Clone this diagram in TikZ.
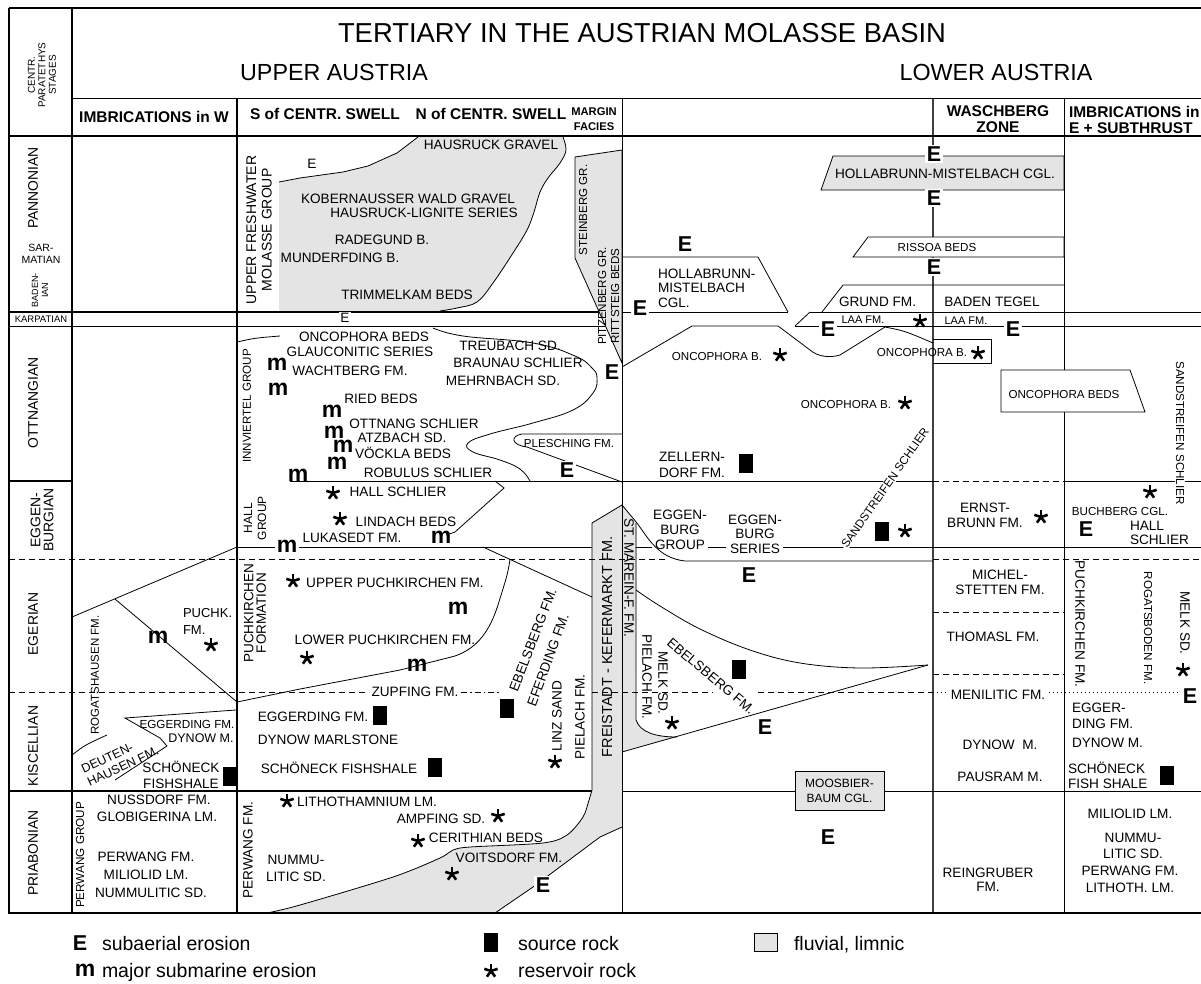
\documentclass[tikz,border=0pt]{standalone}
\usepackage{fontspec}
\setmainfont{Liberation Sans}
\definecolor{fluv}{RGB}{228,228,228}
\begin{document}
\begin{tikzpicture}[x=1pt,y=-1pt,
  every node/.style={inner sep=0pt,outer sep=0pt},
  ln/.style={line width=0.8pt},
  fr/.style={line width=1.2pt},
  dsh/.style={line width=0.8pt,dash pattern=on 6pt off 4pt},
  dtl/.style={line width=0.8pt,dash pattern=on 1pt off 3pt},
  dshdot/.style={line width=0.8pt,dash pattern=on 6pt off 3pt on 1.5pt off 3pt},
  lab/.style={font=\fontsize{13.6}{15}\selectfont,align=center},
  sm/.style={font=\fontsize{11.6}{13}\selectfont,align=center},
  stg/.style={font=\fontsize{13.9}{13}\selectfont,align=center},
  hdr/.style={font=\bfseries\fontsize{15.5}{16}\selectfont,align=center},
  lg/.style={font=\fontsize{19.5}{20}\selectfont},
  bE/.style={font=\bfseries\fontsize{21.5}{22}\selectfont},
  sE/.style={font=\fontsize{13.6}{14}\selectfont},
  bm/.style={font=\bfseries\fontsize{23}{23}\selectfont},
  wf/.style={fill=white,inner sep=1.5pt},
  ast/.style={circle,minimum size=16pt,path picture={\foreach \a in {90,18,162,234,306}{\draw[line width=2.6pt] (path picture bounding box.center) -- ++(\a:7pt);}}},
  src/.style={fill=black,minimum width=14pt,minimum height=19pt},
]
\useasboundingbox (0,0) rectangle (1201,983);

% ---- line under fills
\draw[line width=1.4pt,black!75] (933,98) -- (933,913);

% ---- grey fluvial areas
\fill[fluv] (279,312) -- (279,182) -- (300,178) -- (343,172) -- (368,166) -- (397,153) -- (418,137) -- (563,137) -- plot[smooth,tension=0.6] coordinates {(563,137) (566,150) (560,163) (548,178) (540,192) (534,212) (527,230) (513,253) (493,283) (477,302) (457,308) (440,311)} -- (440,312) -- cycle;
\draw[ln] (279,182) -- (300,178) -- (343,172) -- (368,166) -- (397,153) -- (418,137);
\draw[ln] plot[smooth,tension=0.6] coordinates {(563,137) (566,150) (560,163) (548,178) (540,192) (534,212) (527,230) (513,253) (493,283) (477,302) (457,308) (440,311)};

\filldraw[ln,fill=fluv] (575,157) -- (622,150) -- (622,363) -- (575,258) -- cycle;

\fill[fluv] (622,505) -- (592,523) -- (592,790) -- plot[smooth,tension=0.5] coordinates {(592,790) (589,800) (583,817) (567,835) (543,843) (470,847) (453,850) (440,858) (393,877) (300,905) (267,913)} -- (495,913) -- (533,887) -- (600,837) -- (622,827) -- cycle;
\draw[ln] (622,505) -- (592,523) -- (592,790) -- plot[smooth,tension=0.5] coordinates {(592,790) (589,800) (583,817) (567,835) (543,843) (470,847) (453,850) (440,858) (393,877) (300,905) (267,913)};
\draw[ln] (495,913) -- (533,887) -- (600,837) -- (622,827);

\fill[fluv] (622,505) -- (637,523) -- (636,720) .. controls (640,732) and (655,737) .. (677,737) -- (622,752) -- cycle;
\draw[ln] (636,523) -- (636,720) .. controls (640,732) and (655,737) .. (677,737);

\filldraw[ln,fill=fluv] (833,156) -- (1064,156) -- (1064,190) -- (821,190) -- cycle;

% ---- frame and grid
\draw[fr] (9,8) -- (1201,8);
\draw[fr] (9,8) -- (9,913) -- (1201,913);
\draw[fr] (72,8) -- (72,913);
\draw[ln] (72,98) -- (1201,98);
\draw[fr] (9,136) -- (1201,136);
\draw[fr] (237,98) -- (237,913);
\draw[ln] (622,98) -- (622,913);
\draw[ln] (1064,98) -- (1064,913);

\draw[fr] (9,312) -- (599,312);
\draw[ln] (622,312) -- (788,312);
\draw[ln] (810,312) -- (1201,312);
\draw[ln] (9,326) -- (605,326);
\draw[ln] (795,326) -- (1201,326);

\draw[fr] (9,481) -- (72,481);
\draw[ln] (290,481) -- (933,481);
\draw[dsh] (933,481) -- (1064,481);
\draw[ln] (1064,481) -- (1201,481);

\draw[ln] (237,547) -- (592,547);
\draw[ln] (636,547) -- (652,547);
\draw[ln] (708,547) -- (726,547);
\draw[ln] (783,547) -- (1201,547);

\draw[dsh] (9,559) -- (667,559);
\draw[dsh] (933,559) -- (1201,559);

\draw[dsh] (9,692) -- (369,692);
\draw[dshdot] (461,692) -- (500,692);
\draw[dsh] (592,692) -- (713,692);
\draw[dsh] (758,692) -- (933,692);
\draw[dtl] (933,692) -- (1181,692);

\draw[dsh] (933,612) -- (1064,612);
\draw[dsh] (933,674) -- (1064,674);

\draw[fr] (9,791) -- (592,791);
\draw[ln] (622,791) -- (795,791);
\draw[ln] (884,791) -- (1201,791);

% ---- formation boundaries
\draw[ln] (622,257) -- (758,257) -- (788,312);
\filldraw[ln,fill=white] (868,237) -- (1064,237) -- (1064,257) -- (853,257) -- cycle;
\draw[ln] (822,312) -- (843,285) -- (1064,285);
\draw[ln] (810,312) -- (795,326);
\draw[ln] (622,367) -- (692,326) -- (778,326) -- (810,350) .. controls (818,357) and (830,358) .. (840,355) -- (885,327) .. controls (905,331) .. (933,343);
\draw[ln] (933,339) -- (991,339) -- (991,363) -- (933,363);
\filldraw[ln,fill=white] (1001,370) -- (1130,370) -- (1145,412) -- (1001,412) -- cycle;

\draw[ln] (237,342) .. controls (255,338) .. (280,336);
\draw[ln] plot[smooth,tension=0.7] coordinates {(433,328) (463,336) (533,343) (575,356) (592,368) (597,378) (593,393) (573,410) (533,423) (490,434) (468,443) (473,452) (500,460) (520,469) (530,481)};
\draw[ln] (622,434) -- (522,434) .. controls (510,436) and (511,445) .. (527,447) -- (622,482);
\draw[ln] (495,481) -- (504,488) -- (455,532) -- (446,535);
\draw[ln] (483,547) -- (592,597);
\draw[ln] (237,702) -- (300,689) -- (400,670) -- (455,656) .. controls (478,648) and (490,630) .. (498,605) .. controls (504,585) and (508,575) .. (510,559);
\draw[ln] (72,617) -- (237,547);
\draw[ln] (115,599) -- (237,702);
\draw[ln] (622,505) -- (637,523) .. controls (648,538) and (658,558) .. (685,561) -- (933,561);
\draw[ln] plot[smooth,tension=0.6] coordinates {(636,590) (660,606) (700,629) (750,650) (800,663) (860,668) (928,665)};
\draw[ln] (622,752) -- (928,665);

% Kiscellian, west imbrications
\draw[ln] (72,755) .. controls (85,745) .. (107,735);
\draw[ln] (115,780) -- (167,746);
\draw[ln] (236,710) -- (125,718) -- (160,738) -- (167,746);

% ---- header texts
\node[font=\fontsize{27.4}{28}\selectfont] (title) at (642,33) {TERTIARY IN THE AUSTRIAN MOLASSE BASIN};
\node[font=\fontsize{23.3}{24}\selectfont] (ua) at (334,72) {UPPER AUSTRIA};
\node[font=\fontsize{23.3}{24}\selectfont] (la) at (996,72) {LOWER AUSTRIA};
\node[font=\fontsize{10}{10.5}\selectfont,align=center,rotate=90] (cps) at (42,75) {CENTR.\\PARATETHYS\\STAGES};
\node[hdr] (h1) at (154,117) {IMBRICATIONS in W};
\node[hdr] (h2) at (325,114) {S of CENTR. SWELL};
\node[hdr] (h3) at (491,114) {N of CENTR. SWELL};
\node[font=\bfseries\fontsize{11.2}{15}\selectfont,align=center] (h4) at (594,119.5) {MARGIN\\FACIES};
\node[hdr] (h5) at (998,119.5) {WASCHBERG\\ZONE};
\node[hdr,align=left,anchor=west] (h6) at (1069,119.5) {IMBRICATIONS in\\E + SUBTHRUST};

% ---- stages
\node[stg,rotate=90] (s1) at (33,188) {PANNONIAN};
\node[font=\fontsize{10.5}{12}\selectfont,align=center] (s2) at (41,254) {SAR-\\MATIAN};
\node[font=\fontsize{9}{10}\selectfont,align=center,rotate=90] (s3) at (40,290) {BADEN-\\IAN};
\node[font=\fontsize{9.5}{10}\selectfont] (s4) at (41,319) {KARPATIAN};
\node[stg,rotate=90] (s5) at (33,403) {OTTNANGIAN};
\node[stg,rotate=90] (s6) at (42,520) {EGGEN-\\BURGIAN};
\node[stg,rotate=90] (s7) at (33,624) {EGERIAN};
\node[stg,rotate=90] (s8) at (33,746) {KISCELLIAN};
\node[stg,rotate=90] (s9) at (33,853) {PRIABONIAN};

% ---- imbrications W
\node[font=\fontsize{11.5}{12}\selectfont,rotate=90] (w1) at (95,675) {ROGATSHAUSEN FM.};
\node[font=\fontsize{13}{17}\selectfont,align=left,anchor=west] (w2) at (183,621) {PUCHK.\\FM.};
\node[bm] (w3) at (158,637) {m};
\node[ast] (w4) at (211,645) {};
\node[font=\fontsize{11.7}{12}\selectfont] (w5) at (187,724) {EGGERDING FM.};
\node[font=\fontsize{12.5}{13}\selectfont] (w6) at (201,738) {DYNOW M.};
\node[font=\fontsize{12.5}{14}\selectfont,align=left,rotate=25] (w7) at (120,760) {DEUTEN-\\HAUSEN FM.};
\node[lab,font=\fontsize{13.6}{16}\selectfont] (w8) at (181,775) {SCHÖNECK\\FISHSHALE};
\node[src] (w9) at (229.5,776) {};
\node[font=\fontsize{11.7}{12}\selectfont,rotate=90] (w10) at (80,855) {PERWANG GROUP};
\node[lab] (w11) at (159,800) {NUSSDORF FM.};
\node[lab] (w12) at (157,817) {GLOBIGERINA LM.};
\node[lab] (w13) at (146,857) {PERWANG FM.};
\node[lab] (w14) at (146,875) {MILIOLID LM.};
\node[lab] (w15) at (151,893) {NUMMULITIC SD.};

% ---- upper Austria, S and N of swell
\node[font=\fontsize{14}{15.5}\selectfont,align=center,rotate=90] (u1) at (259,230) {UPPER FRESHWATER\\MOLASSE GROUP};
\node[sE] (u2) at (312,164) {E};
\node[lab] (u3) at (491,145) {HAUSRUCK GRAVEL};
\node[lab] (u4) at (408,199) {KOBERNAUSSER WALD GRAVEL};
\node[lab] (u5) at (424,213) {HAUSRUCK-LIGNITE SERIES};
\node[lab] (u6) at (382,240) {RADEGUND B.};
\node[lab] (u7) at (340,258) {MUNDERFDING B.};
\node[lab] (u8) at (407,295) {TRIMMELKAM BEDS};
\node[sE,wf] (u9) at (345,318) {E};
\node[sm,rotate=90] (u10) at (583,210) {STEINBERG GR.};
\node[sm,rotate=90,font=\fontsize{11.6}{13}\selectfont] (u11) at (608.5,296) {PITZENBERG GR.\\RITTSTEIG BEDS};

\node[sm,rotate=90] (o1) at (247,406) {INNVIERTEL GROUP};
\node[lab] (o2) at (364,337) {ONCOPHORA BEDS};
\node[lab] (o3) at (360,352) {GLAUCONITIC SERIES};
\node[lab] (o4) at (350,371) {WACHTBERG FM.};
\node[lab] (o5) at (381,399) {RIED BEDS};
\node[lab] (o6) at (414,424) {OTTNANG SCHLIER};
\node[lab] (o7) at (402,438) {ATZBACH SD.};
\node[lab] (o8) at (403,453) {VÖCKLA BEDS};
\node[lab] (o9) at (428,473) {ROBULUS SCHLIER};
\node[bm] (m1) at (277,364) {m};
\node[bm] (m2) at (278,389) {m};
\node[bm] (m3) at (332,411) {m};
\node[bm] (m4) at (334,432) {m};
\node[bm] (m5) at (343,446) {m};
\node[bm] (m6) at (337,463) {m};
\node[bm] (m7) at (298,475) {m};
\node[lab] (o10) at (510,346) {TREUBACH SD.};
\node[lab] (o11) at (518,363) {BRAUNAU SCHLIER};
\node[lab] (o12) at (503,381) {MEHRNBACH SD.};
\node[sm] (o13) at (569,443) {PLESCHING FM.};
\node[bE,wf] (e1) at (567,470) {E};

\node[font=\fontsize{12}{14}\selectfont,align=center,rotate=90] (g1) at (255,518) {HALL\\GROUP};
\node[ast] (a1) at (333,493) {};
\node[lab] (g2) at (398,492) {HALL SCHLIER};
\node[ast] (a2) at (340,519) {};
\node[lab] (g3) at (406,522) {LINDACH BEDS};
\node[lab] (g4) at (352,538) {LUKASEDT FM.};
\node[bm,wf] (m8) at (287,546) {m};
\node[bm] (m9) at (441,537) {m};

\node[font=\fontsize{13.5}{12.5}\selectfont,align=center,rotate=90] (p1) at (255,613) {PUCHKIRCHEN\\FORMATION};
\node[ast] (a3) at (293,581) {};
\node[lab] (p2) at (395,583) {UPPER PUCHKIRCHEN FM.};
\node[bm] (m10) at (458,608) {m};
\node[lab] (p3) at (385,640) {LOWER PUCHKIRCHEN FM.};
\node[ast] (a4) at (307,658) {};
\node[bm] (m11) at (417,665) {m};
\node[lab,rotate=69] (p4) at (533,640) {EBELSBERG FM.};
\node[lab,rotate=70] (p5) at (548,660) {EFERDING FM.};

\node[lab] (k1) at (415,692) {ZUPFING FM.};
\node[lab] (k2) at (313,717) {EGGERDING FM.};
\node[src] (k3) at (380,715.5) {};
\node[lab] (k4) at (328,740) {DYNOW MARLSTONE};
\node[lab] (k5) at (339,768) {SCHÖNECK FISHSHALE};
\node[src] (k6) at (435,767.5) {};
\node[src] (k7) at (506.5,708) {};
\node[lab,rotate=90] (k8) at (557,716) {LINZ SAND};
\node[ast] (a5) at (555,762) {};
\node[lab,rotate=90] (k9) at (580,717) {PIELACH FM.};
\node[font=\fontsize{14.5}{15}\selectfont,rotate=90] (k10) at (607,647) {FREISTADT - KEFERMARKT FM.};

\node[lab,rotate=90] (r1) at (248,850) {PERWANG FM.};
\node[ast] (a6) at (287,801) {};
\node[lab] (r2) at (367,802) {LITHOTHAMNIUM LM.};
\node[lab] (r3) at (441,819) {AMPFING SD.};
\node[ast] (a7) at (498,816) {};
\node[ast] (a8) at (418,841) {};
\node[lab] (r4) at (486,838) {CERITHIAN BEDS};
\node[lab,font=\fontsize{13.6}{17}\selectfont] (r5) at (296,868) {NUMMU-\\LITIC SD.};
\node[lab] (r6) at (509,858) {VOITSDORF FM.};
\node[ast] (a9) at (452,874) {};
\node[bE,wf] (e2) at (543,885) {E};

% ---- lower Austria
\node[bE] (l1) at (685,244) {E};
\node[lab,align=left,anchor=west,font=\fontsize{13.6}{14.5}\selectfont] (l2) at (658,288) {HOLLABRUNN-\\MISTELBACH\\CGL.};
\node[bE,wf] (l3) at (640,308) {E};
\node[lab] (l4) at (945,174) {HOLLABRUNN-MISTELBACH CGL.};
\node[bE,wf] (l5) at (934,154) {E};
\node[bE,wf] (l6) at (934,198) {E};
\node[sm] (l7) at (937,248) {RISSOA BEDS};
\node[bE,wf] (l8) at (934,267) {E};
\node[lab,anchor=west] (l9) at (839,302) {GRUND FM.};
\node[lab] (l10) at (992,302) {BADEN TEGEL};
\node[font=\fontsize{11}{12}\selectfont] (l11) at (863,320) {LAA FM.};
\node[bE,wf] (l12) at (828,329) {E};
\node[ast] (a10) at (920,321) {};
\node[font=\fontsize{11}{12}\selectfont] (l13) at (966,321) {LAA FM.};
\node[bE,wf] (l14) at (1013,329) {E};

\node[sm] (l15) at (717,356) {ONCOPHORA B.};
\node[ast] (a11) at (780,355) {};
\node[sm] (l16) at (922,352) {ONCOPHORA B.};
\node[ast] (a12) at (978,353) {};
\node[bE] (l17) at (612,372) {E};
\node[sm] (l18) at (846,404) {ONCOPHORA B.};
\node[ast] (a13) at (905,403) {};
\node[sm] (l19) at (1064,394) {ONCOPHORA BEDS};
\node[sm,rotate=-90,fill=white,inner sep=1pt] (l20) at (1180,433) {SANDSTREIFEN SCHLIER};
\node[lab,font=\fontsize{13.6}{16}\selectfont] (l21) at (692,465) {ZELLERN-\\DORF FM.};
\node[src] (l22) at (745.5,463.5) {};

\node[lab,font=\fontsize{13.6}{15}\selectfont] (l23) at (680,530) {EGGEN-\\BURG\\GROUP};
\node[lab,font=\fontsize{13.6}{14.5}\selectfont] (l24) at (755,534) {EGGEN-\\BURG\\SERIES};
\node[sm,rotate=55,fill=white,inner sep=1pt] (l25) at (885,488) {SANDSTREIFEN SCHLIER};
\node[src] (l26) at (882,531.5) {};
\node[ast] (a14) at (905,531) {};
\node[bE] (l27) at (749,575) {E};
\node[lab,font=\fontsize{13.6}{15}\selectfont] (l28) at (985,515) {ERNST-\\BRUNN FM.};
\node[ast] (a15) at (1041,517) {};
\node[ast] (a16) at (1150,492) {};
\node[sm] (l29) at (1120,511) {BUCHBERG CGL.};
\node[bE] (l30) at (1086,529) {E};
\node[lab,align=left,anchor=west,font=\fontsize{13.6}{14}\selectfont] (l31) at (1130,533) {HALL\\SCHLIER};

\node[lab,rotate=-90] (l32) at (629,578) {ST. MAREIN-F. FM.};
\node[lab,rotate=-90] (l33) at (647,677) {PIELACH FM.};
\node[lab,rotate=-90] (l34) at (663,683) {MELK SD.};
\node[ast] (a17) at (672,723) {};
\node[lab,rotate=-40] (l35) at (711,676) {EBELSBERG FM.};
\node[src] (l36) at (739,669.5) {};
\node[bE] (l37) at (765,727) {E};

\node[lab,font=\fontsize{13.6}{15}\selectfont] (l38) at (1000,582) {MICHEL-\\STETTEN FM.};
\node[lab] (l39) at (993,637) {THOMASL FM.};
\node[lab,wf] (l40) at (998,695) {MENILITIC FM.};
\node[bE,wf] (l41) at (1190,696) {E};
\node[lab,rotate=-90] (l42) at (1080,624) {PUCHKIRCHEN FM.};
\node[sm,rotate=-90] (l43) at (1148,628) {ROGATSBODEN FM.};
\node[lab,rotate=-90] (l44) at (1185,623) {MELK SD.};
\node[ast] (a18) at (1183,670) {};
\node[lab] (l45) at (1000,745) {DYNOW\ \ M.};
\node[lab] (l46) at (1000,777) {PAUSRAM M.};
\node[lab,align=left,anchor=west,font=\fontsize{13.6}{16}\selectfont] (l47) at (1072,716) {EGGER-\\DING FM.};
\node[lab,anchor=west] (l48) at (1072,743) {DYNOW M.};
\node[lab,align=left,anchor=west,font=\fontsize{13.6}{15}\selectfont] (l49) at (1068,775) {SCHÖNECK\\FISH SHALE};
\node[src] (l50) at (1167,775) {};

\node[sm,draw,ln,fill=fluv,minimum width=89pt,minimum height=39pt,font=\fontsize{12}{15}\selectfont] (moos) at (839.5,790.5) {MOOSBIER-\\BAUM CGL.};
\node[bE] (l51) at (828,837) {E};
\node[lab,font=\fontsize{13.6}{14}\selectfont] (l52) at (988,880) {REINGRUBER\\FM.};
\node[lab] (l53) at (1130,814) {MILIOLID LM.};
\node[lab,font=\fontsize{13.6}{16}\selectfont] (l54) at (1133,846) {NUMMU-\\LITIC SD.};
\node[lab] (l55) at (1130,871) {PERWANG FM.};
\node[lab] (l56) at (1130,888) {LITHOTH. LM.};

% ---- legend
\node[bE] (lgE) at (80,943) {E};
\node[lg,anchor=base west] (lgEt) at (102,950) {subaerial erosion};
\node[bm] (lgm) at (85,970) {m};
\node[lg,anchor=base west] (lgmt) at (102,977) {major submarine erosion};
\node[src] (lgs) at (491,942) {};
\node[lg,anchor=base west] (lgst) at (518,950) {source rock};
\node[ast] (lga) at (491,971) {};
\node[lg,anchor=base west] (lgat) at (518,977) {reservoir rock};
\node[draw,ln,fill=fluv,minimum width=23pt,minimum height=18pt] (lgf) at (765.5,942) {};
\node[lg,anchor=base west] (lgft) at (794,950) {fluvial, limnic};
\end{tikzpicture}
\end{document}
